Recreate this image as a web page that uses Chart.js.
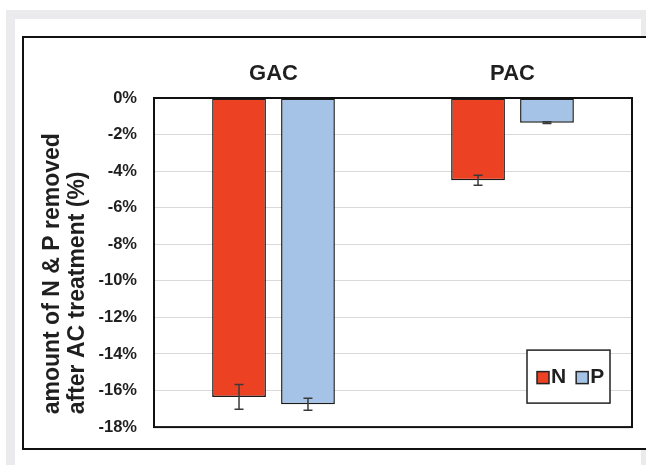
<!DOCTYPE html>
<html>
<head>
<meta charset="utf-8">
<script src="https://cdn.jsdelivr.net/npm/chart.js@4/dist/chart.umd.min.js"></script>
<style>
  html, body { margin: 0; padding: 0; width: 646px; height: 465px; overflow: hidden; background: #ffffff; }
  #shade { position: absolute; left: 6px; top: 10px; right: 0; bottom: 0; background: #ebebed; }
  #panel { position: absolute; left: 15px; top: 19px; width: 626px; bottom: 0; background: #ffffff; }
  #frame { position: absolute; left: 22px; top: 36px; width: 700px; height: 410px; border: 2px solid #111111; background: #ffffff; }
  #wrap { position: absolute; left: 24px; top: 38px; width: 622px; height: 416px; }
</style>
</head>
<body>
<div id="shade"></div>
<div id="panel"></div>
<div id="frame"></div>
<div id="wrap"><canvas id="c" width="622" height="416"></canvas></div>
<script>
// Adsorbent types and removal results (% change after activated-carbon treatment)
const categories = ['GAC', 'PAC'];
const seriesNames = ['N', 'P'];
const nValues = [-16.35, -4.5];
const pValues = [-16.75, -1.35];
const nErrors = [0.68, 0.27];
const pErrors = [0.33, 0.05];
const yTicks = [0, -2, -4, -6, -8, -10, -12, -14, -16, -18];

const FONT = "'Liberation Sans', Arial, sans-serif";
const INK = '#1f1f1f';
const errorSets = [nErrors, pErrors];

// Black frame round the plot area
const plotFrame = {
  id: 'plotFrame',
  afterDatasetsDraw(chart) {
    const a = chart.chartArea, ctx = chart.ctx;
    ctx.save();
    ctx.strokeStyle = '#111111';
    ctx.lineWidth = 2;
    ctx.strokeRect(a.left, a.top, a.right - a.left, a.bottom - a.top);
    ctx.restore();
  }
};

// Error whiskers on every bar
const errorBars = {
  id: 'errorBars',
  afterDatasetsDraw(chart) {
    const ctx = chart.ctx, y = chart.scales.y;
    ctx.save();
    ctx.strokeStyle = '#3a3a3a';
    ctx.lineWidth = 1.5;
    chart.data.datasets.forEach((ds, i) => {
      chart.getDatasetMeta(i).data.forEach((bar, j) => {
        const v = ds.data[j], e = errorSets[i][j];
        const y1 = y.getPixelForValue(v + e), y2 = y.getPixelForValue(v - e);
        const x = bar.x, cap = 4.5;
        ctx.beginPath();
        ctx.moveTo(x, y1); ctx.lineTo(x, y2);
        ctx.moveTo(x - cap, y1); ctx.lineTo(x + cap, y1);
        ctx.moveTo(x - cap, y2); ctx.lineTo(x + cap, y2);
        ctx.stroke();
      });
    });
    ctx.restore();
  }
};

// Boxed legend in the lower right corner of the plot
const boxLegend = {
  id: 'boxLegend',
  afterDraw(chart) {
    const a = chart.chartArea, ctx = chart.ctx;
    const bx = a.right - 105, by = a.bottom - 77, bw = 83, bh = 53;
    ctx.save();
    ctx.fillStyle = '#ffffff';
    ctx.fillRect(bx, by, bw, bh);
    ctx.strokeStyle = '#222222';
    ctx.lineWidth = 1.5;
    ctx.strokeRect(bx, by, bw, bh);
    ctx.font = 'bold 21px ' + FONT;
    ctx.textBaseline = 'middle';
    ctx.textAlign = 'left';
    let x = bx + 10;
    const cy = by + bh / 2 + 1;
    chart.data.datasets.forEach(ds => {
      ctx.fillStyle = ds.backgroundColor;
      ctx.fillRect(x, cy - 6, 12, 12);
      ctx.strokeStyle = '#222222';
      ctx.lineWidth = 1.5;
      ctx.strokeRect(x, cy - 6, 12, 12);
      ctx.fillStyle = INK;
      ctx.fillText(ds.label, x + 14, cy);
      x += 14 + ctx.measureText(ds.label).width + 10;
    });
    ctx.restore();
  }
};

new Chart(document.getElementById('c'), {
  type: 'bar',
  data: {
    labels: categories,
    datasets: [
      { label: seriesNames[0], data: nValues, backgroundColor: '#ec4223', borderColor: '#1a1a1a', borderWidth: 1.5, borderSkipped: false },
      { label: seriesNames[1], data: pValues, backgroundColor: '#a5c3e6', borderColor: '#1a1a1a', borderWidth: 1.5, borderSkipped: false }
    ]
  },
  options: {
    responsive: false,
    animation: false,
    layout: { padding: { left: 0, top: 0, right: 14, bottom: 0 } },
    categoryPercentage: 0.577,
    barPercentage: 0.78,
    plugins: { legend: { display: false }, tooltip: { enabled: false } },
    scales: {
      x: {
        position: 'top',
        grid: { display: false, drawTicks: false },
        border: { display: false },
        ticks: { padding: 11, color: INK, font: { family: FONT, size: 22, weight: 'bold' } },
        afterFit(s) { s.height = 60; }
      },
      y: {
        min: -18, max: 0,
        afterBuildTicks(s) { s.ticks = yTicks.map(v => ({ value: v })); },
        grid: { color: '#d9d9d9', lineWidth: 1, drawTicks: false },
        border: { display: false },
        ticks: { padding: 17, color: INK, font: { family: FONT, size: 16.5, weight: 'bold' }, callback: v => v + '%' },
        title: {
          display: true,
          align: 'start',
          text: ['  amount of N & P removed', '  after AC treatment (%)'],
          color: INK,
          font: { family: FONT, size: 23, weight: 'bold', lineHeight: 1.09 },
          padding: { top: 16, bottom: 0 }
        },
        afterFit(s) { s.width = 130; }
      }
    }
  },
  plugins: [plotFrame, errorBars, boxLegend]
});
</script>
</body>
</html>
